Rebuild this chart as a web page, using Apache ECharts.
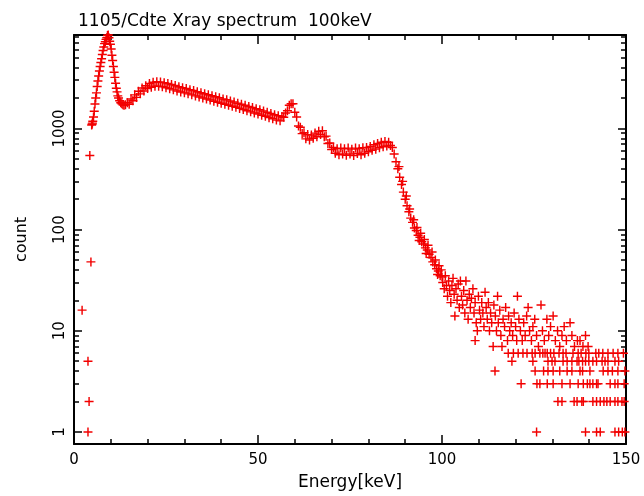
<!DOCTYPE html>
<html>
<head>
<meta charset="utf-8">
<script src="https://cdn.jsdelivr.net/npm/echarts@6/dist/echarts.min.js"></script>
<style>
  html, body { margin: 0; background: #fff; }
  #chart { width: 644px; height: 496px; }
</style>
</head>
<body>
<div id="chart"></div>
<script>
// stray low-energy channels
const lowOutliers = [[2.2, 16], [3.8, 5], [4.1, 2], [3.8, 1], [4.3, 540], [4.6, 48]];

// escape peak region, [energy keV, count]
const peakBand = [
  [4.8, 1080], [4.9, 1100], [5.0, 1130], [5.1, 1180], [5.3, 1300], [5.5, 1480], [5.7, 1750],
  [5.9, 2000], [6.1, 2250], [6.3, 2600], [6.5, 2950], [6.7, 3300], [6.9, 3700], [7.1, 4100],
  [7.3, 4500], [7.5, 4900], [7.7, 5400], [7.9, 5900], [8.1, 6400], [8.3, 6900], [8.5, 7200],
  [8.7, 7600], [8.9, 7900], [9.1, 8300], [9.3, 8400], [9.5, 7900], [9.7, 7300], [9.9, 6800],
  [10.1, 6100], [10.3, 5300], [10.5, 4700], [10.7, 4100], [10.9, 3600], [11.1, 3200],
  [11.3, 2800], [11.5, 2500], [11.7, 2300], [11.9, 2100], [12.1, 2000], [12.4, 1880],
  [12.7, 1800], [13.0, 1760], [13.3, 1720], [13.6, 1700], [14.0, 1720]
];

// continuum up to the 100keV edge
const continuum = [
  [14.5, 1800], [15.0, 1740], [15.5, 1960], [16.0, 1880], [16.5, 2150], [17.0, 2030],
  [17.5, 2330], [18.0, 2200], [18.5, 2510], [19.0, 2350], [19.5, 2650], [20.0, 2480],
  [20.5, 2780], [21.0, 2560], [21.5, 2860], [22.0, 2620], [22.5, 2900], [23.0, 2620],
  [23.5, 2880], [24.0, 2590], [24.5, 2840], [25.0, 2530], [25.5, 2780], [26.0, 2470],
  [26.5, 2720], [27.0, 2410], [27.5, 2660], [28.0, 2350], [28.5, 2590], [29.0, 2290],
  [29.5, 2530], [30.0, 2250], [30.5, 2480], [31.0, 2200], [31.5, 2420], [32.0, 2150],
  [32.5, 2370], [33.0, 2100], [33.5, 2310], [34.0, 2050], [34.5, 2260], [35.0, 2000],
  [35.5, 2210], [36.0, 1960], [36.5, 2160], [37.0, 1910], [37.5, 2110], [38.0, 1860],
  [38.5, 2060], [39.0, 1820], [39.5, 2010], [40.0, 1780], [40.5, 1960], [41.0, 1740],
  [41.5, 1920], [42.0, 1700], [42.5, 1870], [43.0, 1660], [43.5, 1830], [44.0, 1620],
  [44.5, 1780], [45.0, 1580], [45.5, 1740], [46.0, 1540], [46.5, 1700], [47.0, 1500],
  [47.5, 1650], [48.0, 1460], [48.5, 1610], [49.0, 1420], [49.5, 1570], [50.0, 1390],
  [50.5, 1530], [51.0, 1350], [51.5, 1490], [52.0, 1320], [52.5, 1450], [53.0, 1280],
  [53.5, 1410], [54.0, 1250], [54.5, 1370], [55.0, 1210], [55.5, 1340], [56.0, 1190],
  [56.5, 1310], [57.0, 1290], [57.5, 1420], [58.0, 1500], [58.5, 1700], [59.0, 1760],
  [59.5, 1760], [60.0, 1450], [60.5, 1300], [61.0, 1060], [61.5, 1030], [62.0, 890],
  [62.5, 910], [63.0, 790], [63.5, 870], [64.0, 770], [64.5, 860], [65.0, 800],
  [65.5, 900], [66.0, 830], [66.5, 940], [67.0, 870], [67.5, 950], [68.0, 830],
  [68.5, 840], [69.0, 710], [69.5, 720], [70.0, 620], [70.5, 650], [71.0, 570],
  [71.5, 630], [72.0, 550], [72.5, 640], [73.0, 560], [73.5, 630], [74.0, 545],
  [74.5, 640], [75.0, 560], [75.5, 625], [76.0, 540], [76.5, 640], [77.0, 565],
  [77.5, 630], [78.0, 550], [78.5, 645], [79.0, 570], [79.5, 650], [80.0, 590],
  [80.5, 665], [81.0, 610], [81.5, 690], [82.0, 625], [82.5, 710], [83.0, 645],
  [83.5, 730], [84.0, 660], [84.5, 745], [85.0, 670], [85.5, 730], [86.0, 680],
  [86.5, 650], [87.0, 560], [87.5, 470], [88.0, 400], [88.5, 330], [89.0, 280],
  [89.5, 235], [90.0, 200], [90.5, 172], [91.0, 150], [91.5, 130], [92.0, 118],
  [92.5, 104], [93.0, 98], [93.5, 88], [94.0, 84], [94.5, 76], [95.0, 72], [95.5, 66],
  [96.0, 63], [96.5, 57], [97.0, 53], [97.5, 48], [98.0, 45], [98.5, 41], [99.0, 39],
  [99.5, 35], [100.0, 34]
];

// extra scatter just below the edge
const edgeExtra = [
  [88.3, 420], [89.3, 300], [90.3, 215], [91.2, 160], [92.3, 125], [93.2, 105], [94.2, 92],
  [93.8, 78], [95.2, 80], [96.2, 70], [95.7, 58], [97.3, 60], [98.2, 50], [99.2, 44],
  [99.8, 40], [98.8, 36]
];

// high-energy tail, counts >= 7
const tailUpper = [
  [100.2, 30], [100.6, 26], [100.9, 35], [101.2, 28], [101.5, 22], [101.8, 31], [102.1, 25],
  [102.4, 19], [102.7, 28], [103.0, 33], [103.3, 23], [103.5, 14], [103.8, 26], [104.1, 20],
  [104.4, 29], [104.7, 17], [105.0, 31], [105.3, 22], [105.6, 18], [105.9, 25], [106.2, 15],
  [106.5, 31], [106.8, 20], [107.1, 13], [107.4, 23], [107.7, 17], [108.0, 21], [108.4, 26],
  [108.7, 15], [109.0, 19], [109.0, 8], [109.3, 12], [109.6, 10], [109.9, 22], [110.2, 16],
  [110.5, 13], [110.8, 19], [111.1, 15], [111.4, 11], [111.7, 24], [112.0, 17], [112.3, 13],
  [112.6, 19], [112.9, 10], [113.2, 15], [113.5, 12], [113.9, 7], [114.1, 18], [114.5, 14],
  [114.8, 10], [115.1, 22], [115.3, 12], [115.7, 16], [116.0, 9], [116.3, 7], [116.6, 13],
  [117.0, 11], [117.3, 17], [117.8, 8], [118.1, 14], [118.4, 10], [118.8, 12], [119.2, 9],
  [119.6, 15], [120.0, 11], [120.3, 8], [120.5, 22], [120.9, 13], [121.3, 10], [121.8, 8],
  [122.2, 12], [122.6, 9], [123.0, 14], [123.4, 17], [123.8, 10], [124.3, 8], [124.7, 11],
  [125.2, 13], [125.7, 9], [126.2, 7], [126.9, 18], [127.3, 10], [127.8, 8], [128.5, 13],
  [129.0, 9], [129.5, 11], [130.2, 14], [130.8, 8], [131.4, 10], [132.0, 7], [132.6, 9],
  [133.2, 11], [133.8, 8], [134.8, 12], [135.3, 9], [136.0, 7], [136.8, 8], [137.5, 8],
  [138.3, 7], [139.0, 9], [139.7, 7]
];

// low-count channels in the tail, energies per count level
const tailCount6 = [118.0, 119.4, 120.7, 122.0, 123.1, 124.5, 125.3, 126.6, 127.4, 128.0, 128.6,
  129.5, 130.4, 131.8, 132.9, 133.7, 135.6, 137.0, 137.8, 139.1, 139.9, 141.8, 142.6, 143.7,
  145.1, 146.5, 147.8, 149.3];
const tailCount5 = [119.0, 124.7, 128.8, 129.9, 130.7, 132.9, 134.0, 135.3, 136.7, 137.2, 138.2,
  139.0, 139.9, 141.0, 142.0, 143.5, 144.3, 145.1, 147.0, 148.0];
const tailCount4 = [114.4, 125.3, 127.6, 128.8, 130.2, 132.0, 134.0, 135.3, 137.5, 138.2, 140.2,
  143.8, 145.1, 146.3, 147.8, 149.7];
const tailCount3 = [121.5, 125.8, 126.6, 128.6, 130.2, 132.6, 134.8, 137.0, 138.4, 139.5, 140.2,
  141.0, 142.0, 142.4, 145.7, 147.0, 147.8, 149.5];
const tailCount2 = [131.5, 132.6, 135.9, 136.7, 138.0, 138.4, 141.0, 142.0, 143.0, 144.0, 144.8,
  145.7, 147.0, 147.8, 148.9, 149.5];
const tailCount1 = [125.7, 139.0, 142.0, 143.0, 147.0, 148.0, 149.0, 149.7];

const xMajorTicks = [0, 50, 100, 150];
const yMajorTicks = [1, 10, 100, 1000];
const yMinorTicks = [2, 3, 4, 5, 6, 7, 8, 9, 20, 30, 40, 50, 60, 70, 80, 90,
  200, 300, 400, 500, 600, 700, 800, 900, 2000, 3000, 4000, 5000, 6000, 7000, 8000];

const rows = [tailCount1, tailCount2, tailCount3, tailCount4, tailCount5, tailCount6];
const tailLow = [];
rows.forEach((row, i) => row.forEach((e) => tailLow.push([e, i + 1])));

const points = [].concat(lowOutliers, peakBand, continuum, edgeExtra, tailUpper, tailLow);

const font = 'DejaVu Sans';
const black = '#000';
const lineStyle = { color: black, width: 2 };

function xAxisDef(position, tickLen, ticks, showLabel) {
  return {
    type: 'value', position, min: 0, max: 150, interval: 10, gridIndex: 0,
    axisLine: { show: showLabel !== undefined, onZero: false, lineStyle },
    splitLine: { show: false },
    axisTick: ticks
      ? { inside: true, length: tickLen, customValues: ticks, lineStyle: { color: black, width: 1.5 } }
      : { inside: true, length: tickLen, lineStyle: { color: black, width: 1.5 } },
    axisLabel: showLabel
      ? { customValues: xMajorTicks, margin: 9, color: black, fontFamily: font, fontSize: 15 }
      : { show: false }
  };
}

function yAxisDef(position, tickLen, ticks, showLabel, withLine) {
  return {
    type: 'log', position, min: 0.76, max: 8400, logBase: 10,
    axisLine: { show: withLine, onZero: false, lineStyle },
    splitLine: { show: false },
    minorTick: { show: false },
    axisTick: { inside: true, length: tickLen, customValues: ticks, lineStyle: { color: black, width: 1.5 } },
    axisLabel: showLabel
      ? {
          customValues: yMajorTicks, rotate: 90, margin: 6, color: black, fontFamily: font, fontSize: 15,
          formatter: (v) => String(Math.round(v))
        }
      : { show: false }
  };
}

const chart = echarts.init(document.getElementById('chart'));
const xs = [
  xAxisDef('bottom', 5, null, true),
  xAxisDef('bottom', 9, xMajorTicks),
  xAxisDef('top', 5, null, false),
  xAxisDef('top', 9, xMajorTicks)
];
xs[0].name = 'Energy[keV]';
xs[0].nameLocation = 'middle';
xs[0].nameGap = 30;
xs[0].nameTextStyle = { color: black, fontFamily: font, fontSize: 17 };

const ys = [
  yAxisDef('left', 8, yMajorTicks, true, true),
  yAxisDef('left', 5, yMinorTicks, false, false),
  yAxisDef('right', 8, yMajorTicks, false, true),
  yAxisDef('right', 5, yMinorTicks, false, false)
];
ys[0].name = 'count';
ys[0].nameLocation = 'middle';
ys[0].nameGap = 44;
ys[0].nameTextStyle = { color: black, fontFamily: font, fontSize: 16 };

chart.setOption({
  animation: false,
  backgroundColor: '#fff',
  title: {
    text: '1105/Cdte Xray spectrum  100keV',
    left: 73, top: 8,
    textStyle: { color: black, fontFamily: font, fontSize: 17, fontWeight: 'normal' }
  },
  grid: { left: 74, right: 18, top: 35, bottom: 50, containLabel: false },
  xAxis: xs,
  yAxis: ys,
  series: [
    {
      type: 'scatter',
      xAxisIndex: 0,
      yAxisIndex: 0,
      data: points,
      symbol: 'path://M4.2,0h1.6v4.2h4.2v1.6h-4.2v4.2h-1.6v-4.2h-4.2v-1.6h4.2z',
      symbolSize: 9,
      itemStyle: { color: '#f20000', opacity: 1 },
      silent: true
    }
  ]
});
</script>
</body>
</html>
